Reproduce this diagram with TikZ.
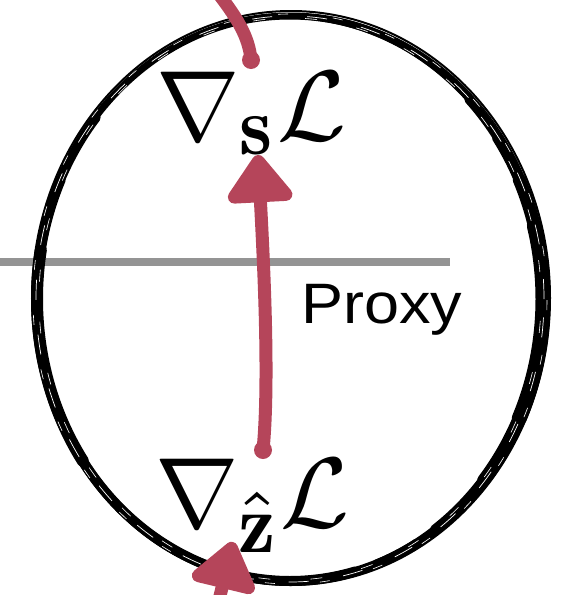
\documentclass[tikz,border=0pt]{standalone}
\usepackage{fontspec}
\usepackage{graphicx}
\newfontfamily\proxyfont{Liberation Sans}
\usetikzlibrary{arrows.meta}
\definecolor{gradred}{HTML}{B5455A}
\definecolor{linegray}{HTML}{949494}
\tikzset{
  mathlbl/.style={inner sep=0pt, scale=10, anchor=base west},
  proxylbl/.style={inner sep=0pt, xscale=6.3, yscale=5.7, anchor=base west, font=\proxyfont},
  brush/.style={draw=black, line width=#1, line cap=round},
  streak/.style={draw=white, line width=0.7pt},
  gradline/.style={draw=gradred, line width=13pt, line cap=round, line join=round},
  gradarrow/.style={gradline, -{Triangle[length=52pt, width=74pt, round]}},
  sepline/.style={draw=linegray, line width=8pt}
}
\newcommand{\bigsub}[1]{\scalebox{1.2}{$\scriptstyle #1$}}
\newcommand{\brusharc}[3]{%
  \draw[brush=#3] (290,299) ++(#1:253pt and 282pt) arc [start angle=#1, end angle=#2, x radius=253pt, y radius=282pt];}
\begin{document}
\begin{tikzpicture}[x=1pt, y=-1pt]
\useasboundingbox (0,0) rectangle (575,595);
\begin{scope}
\clip (0,0) rectangle (575,595);
% separator
\coordinate (sl) at (0,262);
\coordinate (sr) at (450,262);
\draw[sepline] (sl) -- (sr);
% sketchy ellipse
\draw[brush=7pt] (290,299) ellipse [x radius=254pt, y radius=283pt];
\draw[brush=2pt] (291,298) ellipse [x radius=259pt, y radius=287pt];
\draw[brush=2pt, rotate around={1.5:(290,299)}] (290,300) ellipse [x radius=252pt, y radius=282pt];
\draw[brush=1.5pt, rotate around={-1.5:(290,299)}] (291,299) ellipse [x radius=257pt, y radius=285pt];
% graduated thick parts (right, left, bottom)
\brusharc{-70}{45}{9pt}
\brusharc{-55}{35}{11pt}
\brusharc{-40}{25}{13pt}
\brusharc{-25}{15}{15pt}
\brusharc{140}{300}{9pt}
\brusharc{155}{285}{10pt}
\brusharc{170}{215}{12pt}
% hairline streaks
\draw[streak, dash pattern=on 20pt off 35pt] (290,299) ellipse [x radius=254pt, y radius=283pt];
\draw[streak, line width=0.6pt, dash pattern=on 12pt off 40pt, dash phase=25pt] (290,299) ellipse [x radius=251pt, y radius=281pt];
\draw[streak, line width=0.6pt, dash pattern=on 10pt off 45pt, dash phase=12pt] (290,299) ellipse [x radius=257pt, y radius=285pt];
% labels
\node[mathlbl] (gs) at (154,140) {$\nabla_{\bigsub{\mathbf{s}}}\mathcal{L}$};
\node[mathlbl] (gz) at (153,527) {$\nabla_{\bigsub{\hat{\mathbf{z}}}}\mathcal{L}$};
\node[proxylbl] (px) at (300,323) {Proxy};
% red gradient flows
\coordinate (inTop) at (214,-12);
\coordinate (inTopEnd) at (251,60);
\draw[gradline] (inTop) .. controls (236,16) and (249,36) .. (inTopEnd);
\fill[gradred] (inTopEnd) circle (9pt);
\coordinate (pxStart) at (263,450);
\coordinate (pxTip) at (258,155);
\fill[gradred] (pxStart) circle (9pt);
\draw[gradarrow] (pxStart) .. controls (270,380) and (263,250) .. (pxTip);
\coordinate (inBot) at (207,650);
\coordinate (inBotTip) at (233,542);
\draw[gradarrow] (inBot) -- (inBotTip);
\end{scope}
\end{tikzpicture}
\end{document}
